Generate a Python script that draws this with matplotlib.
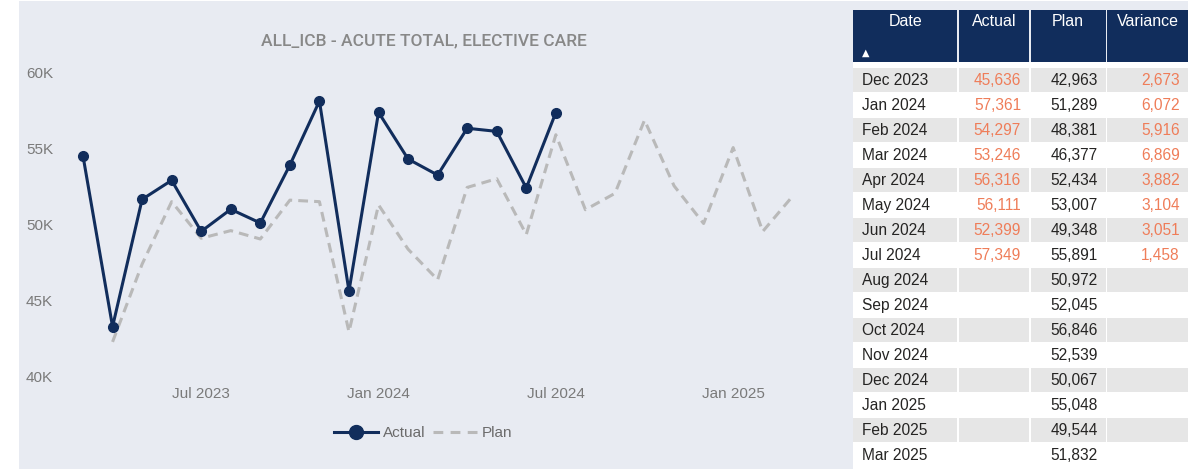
import matplotlib
matplotlib.use("Agg")
import matplotlib.pyplot as plt
from matplotlib.patches import Rectangle
from matplotlib.lines import Line2D

# ---------------- data ----------------
months = ["Mar 2023", "Apr 2023", "May 2023", "Jun 2023", "Jul 2023", "Aug 2023",
          "Sep 2023", "Oct 2023", "Nov 2023", "Dec 2023", "Jan 2024", "Feb 2024",
          "Mar 2024", "Apr 2024", "May 2024", "Jun 2024", "Jul 2024", "Aug 2024",
          "Sep 2024", "Oct 2024", "Nov 2024", "Dec 2024", "Jan 2025", "Feb 2025",
          "Mar 2025"]
# Actual: Mar 2023 .. Jul 2024
actual = [54500, 43300, 51650, 52900, 49550, 51000, 50100, 53900, 58100,
          45636, 57361, 54297, 53246, 56316, 56111, 52399, 57349]
# Plan: Apr 2023 .. Mar 2025
plan = [42300, 47400, 51500, 49100, 49600, 49050, 51600, 51500,
        42963, 51289, 48381, 46377, 52434, 53007, 49348, 55891,
        50972, 52045, 56846, 52539, 50067, 55048, 49544, 51832]
actual_start = "Mar 2023"
plan_start = "Apr 2023"
xtick_labels = ["Jul 2023", "Jan 2024", "Jul 2024", "Jan 2025"]
ytick_values = [40000, 45000, 50000, 55000, 60000]
ytick_labels = ["40K", "45K", "50K", "55K", "60K"]
title = "ALL_ICB - ACUTE TOTAL, ELECTIVE CARE"
table_columns = ["Date", "Actual", "Plan", "Variance"]
table_first_month = "Dec 2023"

# ---------------- style ----------------
W, H = 1198, 469
PANEL = "#e8ebf2"
NAVY = "#112d5c"
PLAN_GREY = "#b9b9b9"
ORANGE = "#ef7d59"
STRIPE = "#e6e6e6"
TXT = "#252423"
AXIS_TXT = "#7a7a7a"
FONT = "Liberation Sans"

fig = plt.figure(figsize=(W / 100, H / 100), dpi=100)

# background / overlay axes in pixel coordinates
bg = fig.add_axes([0, 0, 1, 1])
bg.set_xlim(0, W)
bg.set_ylim(H, 0)
bg.axis("off")
bg.add_patch(Rectangle((19, 1), 1169, 468, color=PANEL, lw=0))

# ---------------- chart ----------------
ax = fig.add_axes([70 / W, (H - 380) / H, 740 / W, 320 / H])
ax.patch.set_alpha(0)
for s in ax.spines.values():
    s.set_visible(False)

a0 = months.index(actual_start)
p0 = months.index(plan_start)
xa = list(range(a0, a0 + len(actual)))
xp = list(range(p0, p0 + len(plan)))

ax.plot(xp, plan, color=PLAN_GREY, lw=2.2, dashes=(3.2, 2.0), zorder=2)
ax.plot(xa, actual, color=NAVY, lw=2.2, marker="o", markersize=7, zorder=3)

ax.set_xlim(-0.44, 24.6)
ax.set_ylim(39800, 60794)
ax.set_xticks([months.index(m) for m in xtick_labels])
ax.set_xticklabels(xtick_labels)
ax.set_yticks(ytick_values)
ax.set_yticklabels(ytick_labels)
ax.tick_params(axis="both", length=0, labelsize=11, labelcolor=AXIS_TXT)
ax.tick_params(axis="y", pad=12.2)
ax.tick_params(axis="x", pad=5)
for lab in ax.get_xticklabels() + ax.get_yticklabels():
    lab.set_fontfamily(FONT)

fig.text(424 / W, 1 - 41 / H, title, ha="center", va="center",
         fontsize=12.5, color="#888888", fontweight="medium",
         family=["Liberation Sans Narrow", "Roboto"])

handles = [Line2D([], [], color=NAVY, lw=2.2, marker="o", markersize=10),
           Line2D([], [], color=PLAN_GREY, lw=2.2, dashes=(3.2, 2.4))]
leg = ax.legend(handles, ["Actual", "Plan"], loc="center",
                bbox_to_anchor=(423 / W, 1 - 433 / H), bbox_transform=fig.transFigure,
                ncol=2, frameon=False, handlelength=2.9, handletextpad=0.3,
                columnspacing=0.5, prop={"family": FONT, "size": 11})
for t in leg.get_texts():
    t.set_color("#6b6b6b")

# ---------------- table ----------------
cols_x = [(853.3, 957.3), (958.8, 1029.2), (1030.7, 1105.7), (1107.2, 1188)]
bg.add_patch(Rectangle((853.3, 62), 1188 - 853.3, H - 62, color="white", lw=0))
for (x0, x1), name in zip(cols_x, table_columns):
    bg.add_patch(Rectangle((x0, 10), x1 - x0, 52, color=NAVY, lw=0))
    bg.text((x0 + x1) / 2, 22, name, ha="center", va="center", color="white",
            fontsize=11.5, family=FONT)
bg.text(866, 52.5, "\u25b2", ha="center", va="center", color="white", fontsize=7,
        family="DejaVu Sans", transform=bg.transData)

start = months.index(table_first_month)
row_h = 25.0
row_top = 68.3
for r, mi in enumerate(range(start, len(months))):
    y0 = row_top + r * row_h
    yc = y0 + 12.5
    if r % 2 == 0:
        for (x0, x1) in cols_x:
            bg.add_patch(Rectangle((x0, y0), x1 - x0, 23.4, color=STRIPE, lw=0))
    bg.text(862, yc, months[mi], ha="left", va="center", color=TXT, fontsize=11.2, family=FONT)
    pv = plan[mi - p0]
    bg.text(1098, yc, f"{pv:,}", ha="right", va="center", color=TXT, fontsize=11.2, family=FONT)
    ai = mi - a0
    if 0 <= ai < len(actual):
        av = actual[ai]
        bg.text(1021, yc, f"{av:,}", ha="right", va="center", color=ORANGE, fontsize=11.2, family=FONT)
        bg.text(1180, yc, f"{av - pv:,}", ha="right", va="center", color=ORANGE, fontsize=11.2, family=FONT)

fig.savefig("out.png", dpi=100)
